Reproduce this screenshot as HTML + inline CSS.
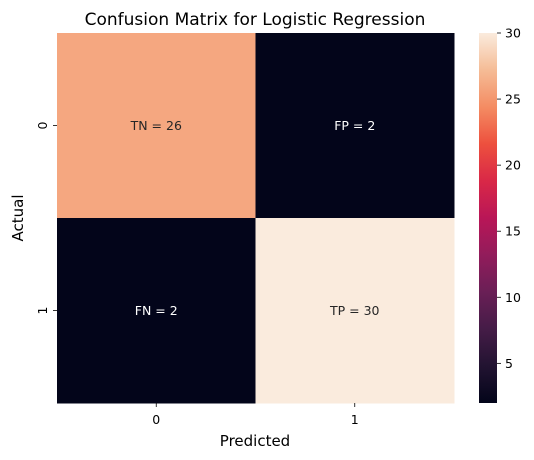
<!DOCTYPE html>
<html><head><meta charset="utf-8"><style>body{margin:0;background:#fff}svg{display:block;font-family:"DejaVu Sans","Liberation Sans",sans-serif}</style></head>
<body>
<svg id="c" width="534" height="460">
<defs><linearGradient id="rk" x1="0" y1="1" x2="0" y2="0">
<stop offset="0" stop-color="#03051a"/><stop offset="0.1" stop-color="#221331"/><stop offset="0.2" stop-color="#451c47"/><stop offset="0.3" stop-color="#6a1f56"/><stop offset="0.4" stop-color="#921c5b"/><stop offset="0.5" stop-color="#b91657"/><stop offset="0.6" stop-color="#d92847"/><stop offset="0.7" stop-color="#ed503e"/><stop offset="0.8" stop-color="#f48c63"/><stop offset="0.9" stop-color="#f5bc96"/><stop offset="1" stop-color="#faebdd"/></linearGradient></defs>
<text x="255" y="25" font-size="17" text-anchor="middle" fill="#000">Confusion Matrix for Logistic Regression</text>
<text x="255" y="446" font-size="15" text-anchor="middle">Predicted</text>
<text transform="translate(23,218) rotate(-90)" font-size="15" text-anchor="middle">Actual</text>
<g id="cells"></g>
<rect x="479" y="33" width="18" height="370" fill="url(#rk)"/>
<g id="cb"></g>
</svg>
<script>
const rowLabels=["0","1"];
const colLabels=["0","1"];
const values=[[26,2],[2,30]];
const names=[["TN","FP"],["FN","TP"]];
const cbTicks=[5,10,15,20,25,30];
const vmin=2,vmax=30;
const X0=57,X1=454,Y0=33,Y1=403;
const stops=[[3,5,26],[34,19,49],[69,28,71],[106,31,86],[146,28,91],[185,22,87],[217,40,71],[237,80,62],[244,140,99],[245,188,150],[250,235,221]];
function color(v){let t=(v-vmin)/(vmax-vmin);t=Math.max(0,Math.min(1,t))*10;const i=Math.min(9,Math.floor(t)),f=t-i,a=stops[i],b=stops[i+1];return `rgb(${a.map((c,k)=>Math.round(c+(b[k]-c)*f)).join(',')})`;}
const ns="http://www.w3.org/2000/svg";
const g=document.getElementById('cells'),cb=document.getElementById('cb');
const cw=(X1-X0)/colLabels.length,ch=(Y1-Y0)/rowLabels.length;
function mk(t,at,p){const e=document.createElementNS(ns,t);for(const k in at)e.setAttribute(k,at[k]);(p||g).appendChild(e);return e;}
values.forEach((row,r)=>row.forEach((v,c)=>{
 const el=mk('rect',{x:X0+c*cw,y:Y0+r*ch,width:cw+0.5,height:ch+0.5,fill:color(v)});
 
 
 const t=mk('text',{x:X0+(c+0.5)*cw,y:Y0+(r+0.5)*ch+4.5,'font-size':12.5,'text-anchor':'middle',fill:(v-vmin)/(vmax-vmin)>0.5?'#262626':'#ffffff'});
 t.textContent=names[r][c]+' = '+v;
 
 
}));
colLabels.forEach((l,i)=>{const x=X0+(i+0.5)*cw;
 mk('line',{x1:x,x2:x,y1:Y1,y2:Y1+4,stroke:'#000','stroke-width':0.8});
 const t=mk('text',{x:x,y:Y1+21,'font-size':12.5,'text-anchor':'middle'});t.textContent=l;
 
 });
rowLabels.forEach((l,i)=>{const y=Y0+(i+0.5)*ch;
 mk('line',{x1:X0-4,x2:X0,y1:y,y2:y,stroke:'#000','stroke-width':0.8});
 const t=mk('text',{transform:`translate(${X0-10},${y}) rotate(-90)`,'font-size':12.5,'text-anchor':'middle'});t.textContent=l;
 
 });
cbTicks.forEach(v=>{const y=Y1-(v-vmin)/(vmax-vmin)*(Y1-Y0);
 mk('line',{x1:497,x2:501,y1:y,y2:y,stroke:'#000','stroke-width':0.8},cb);
 const t=mk('text',{x:505,y:y+4.5,'font-size':12.5},cb);t.textContent=v;
 
 });
</script>
</body></html>
